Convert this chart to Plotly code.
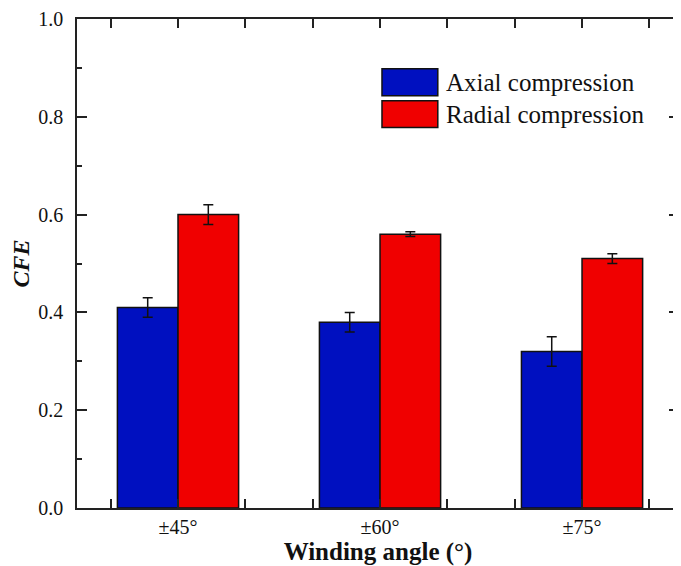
import plotly.graph_objects as go

categories = ["±45°", "±60°", "±75°"]
cat_pos = [1, 2, 3]
axial = [0.41, 0.38, 0.32]
axial_err = [0.02, 0.02, 0.03]
radial = [0.60, 0.56, 0.51]
radial_err = [0.02, 0.005, 0.01]
series_names = ["Axial compression", "Radial compression"]
colors = ["#0010C0", "#F00000"]

FONT = "Liberation Serif"
OFF = 8  # page body margin

fig = go.Figure()
for name, vals, errs, col in [(series_names[0], axial, axial_err, colors[0]),
                              (series_names[1], radial, radial_err, colors[1])]:
    fig.add_trace(go.Bar(
        x=cat_pos, y=vals, name=name, width=0.3,
        marker=dict(color=col, line=dict(color="#111111", width=1.5)),
        error_y=dict(type="data", array=errs, visible=True, color="#111111",
                     thickness=1.5, width=5),
        showlegend=False,
    ))

tickvals = []
ticktext = []
for i in range(2, 11):
    v = i / 3
    tickvals.append(v)
    ticktext.append(categories[i // 3 - 1] if i % 3 == 0 else "")

PL, PT, PB = 77, 17, 508  # plot area in window pixels
PR = 681
pw = PR - PL
ph = PB - PT

fig.update_layout(
    width=681 - OFF, height=566 - OFF,
    margin=dict(l=PL - OFF, r=0, t=PT - OFF, b=566 - PB, pad=0),
    plot_bgcolor="white", paper_bgcolor="white",
    barmode="group", bargap=0.4, bargroupgap=0,
    font=dict(family=FONT, size=20, color="#111111"),
    xaxis=dict(
        range=[0.5, 3.48], tickmode="array", tickvals=tickvals, ticktext=ticktext,
        ticks="inside", ticklen=9, tickwidth=1.5, tickcolor="#222222",
        showline=True, linewidth=1.5, linecolor="#222222", mirror="ticks",
        showgrid=False, zeroline=False, ticklabelstandoff=0,
        tickfont=dict(family=FONT, size=20, color="#111111"),
        title=dict(text="<b>Winding angle (°)</b>", font=dict(family=FONT, size=25), standoff=5),
    ),
    yaxis=dict(
        range=[0, 1.0], dtick=0.2, tick0=0, tickformat=".1f",
        ticks="inside", ticklen=10, tickwidth=1.5, tickcolor="#222222",
        showline=True, linewidth=1.5, linecolor="#222222", mirror="ticks",
        showgrid=False, zeroline=False, ticklabeloverflow="allow", ticklabelstandoff=8,
        minor=dict(dtick=0.1, ticks="inside", ticklen=5, tickwidth=1.5, tickcolor="#222222", showgrid=False),
        tickfont=dict(family=FONT, size=20, color="#111111"),
        title=dict(text="<b><i>CFE</i></b>", font=dict(family=FONT, size=24), standoff=8),
    ),
)

legend_rows = [(67, 94), (99, 126)]
for (y0, y1), name, col in zip(legend_rows, series_names, colors):
    fig.add_shape(type="rect", xref="paper", yref="paper",
                  x0=(383 - PL) / pw, x1=(439 - PL) / pw,
                  y0=1 - (y1 - PT) / ph, y1=1 - (y0 - PT) / ph,
                  fillcolor=col, line=dict(color="#111111", width=1.5))
    fig.add_annotation(xref="paper", yref="paper",
                       x=(445 - PL) / pw, y=1 - ((y0 + y1) / 2 - PT) / ph,
                       text=name, showarrow=False, xanchor="left", yanchor="middle",
                       font=dict(family=FONT, size=25, color="#111111"))

fig.write_html("out.html")
